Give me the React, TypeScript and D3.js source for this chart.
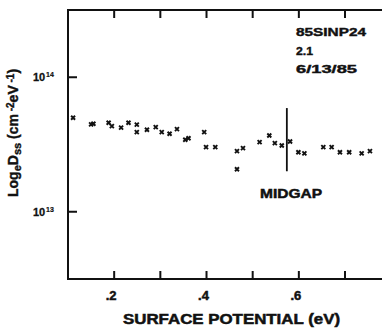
import React from "react";
import * as d3 from "d3";

// Surface potential (eV) vs interface state density Dss (cm^-2 eV^-1)
const potentials = [
  0.111, 0.150, 0.155, 0.188, 0.195, 0.215, 0.231, 0.249, 0.249, 0.271,
  0.290, 0.303, 0.320, 0.336, 0.354, 0.361, 0.395, 0.399, 0.419, 0.466,
  0.479, 0.466, 0.515, 0.536, 0.548, 0.563, 0.581, 0.599, 0.612, 0.653,
  0.671, 0.689, 0.709, 0.736, 0.754,
];
const densities = [
  5.0e13, 4.46e13, 4.51e13, 4.59e13, 4.33e13, 4.22e13, 4.59e13, 4.44e13, 3.91e13, 4.07e13,
  4.26e13, 3.91e13, 3.80e13, 4.11e13, 3.43e13, 3.52e13, 3.91e13, 3.02e13, 3.02e13, 2.82e13,
  2.97e13, 2.07e13, 3.29e13, 3.69e13, 3.24e13, 3.11e13, 3.33e13, 2.77e13, 2.72e13, 3.02e13,
  3.02e13, 2.77e13, 2.77e13, 2.72e13, 2.82e13,
];
const xTicks = [0.2, 0.3, 0.4, 0.5, 0.6, 0.7, 0.8];
const xTickLabels = [".2", ".4", ".6", ".8"];
const xLabelValues = [0.2, 0.4, 0.6, 0.8];
const yTicks = [1e13, 1e14];
const yTickExponents = ["13", "14"];
const midgap = 0.574;
const midgapRange = [2.0e13, 5.9e13];
const sampleInfo = ["85SINP24", "2.1", "6/13/85"];
const sampleInfoWidths = [70, 17, 61];

const W = 382;
const H = 330;
const left = 68;
const top = 10;
const bottom = 279;

export default function App() {
  const x = d3.scaleLinear().domain([0.1, 0.85]).range([left, left + 0.75 * 461.7]);
  const y = d3.scaleLog().domain([Math.pow(10, 12.5), Math.pow(10, 14.5)]).range([bottom, top]);
  const font = "'Liberation Sans', Arial, sans-serif";
  const ink = "#111";
  const right = x.range()[1];
  // heavy lettering
  const heavy = { fill: ink, stroke: ink, strokeWidth: 0.5 };

  return (
    <svg
      width={W}
      height={H}
      style={{ position: "absolute", left: 0, top: 0, background: "#fff" }}
      fontFamily={font}
      fontWeight="bold"
    >
      {/* frame */}
      <path
        d={`M${right},${top}H${left}V${bottom}H${right}`}
        fill="none"
        stroke={ink}
        strokeWidth={2}
      />
      {/* x ticks, top and bottom */}
      {xTicks.map((t) => (
        <g key={t}>
          <line x1={x(t)} x2={x(t)} y1={bottom} y2={bottom - 8} stroke={ink} strokeWidth={2} />
          <line x1={x(t)} x2={x(t)} y1={top} y2={top + 8} stroke={ink} strokeWidth={2} />
        </g>
      ))}
      {xLabelValues.map((v, i) => (
        <text key={v} x={x(v) - 3} y={300} textAnchor="middle" fontSize={13} {...heavy}>
          {xTickLabels[i]}
        </text>
      ))}
      {/* y ticks */}
      {yTicks.map((t, i) => (
        <g key={t}>
          <line x1={left} x2={left + 9} y1={y(t)} y2={y(t)} stroke={ink} strokeWidth={2} />
          <text x={33} y={y(t) + 4} fontSize={11} {...heavy} strokeWidth={0.3}>
            10
          </text>
          <text x={46} y={y(t)} fontSize={7} {...heavy} strokeWidth={0.2}>
            {yTickExponents[i]}
          </text>
        </g>
      ))}
      {/* data */}
      {potentials.map((p, i) => {
        const cx = x(p);
        const cy = y(densities[i]);
        return (
          <path
            key={i}
            d={`M${cx - 2},${cy - 2}L${cx + 2},${cy + 2}M${cx + 2},${cy - 2}L${cx - 2},${cy + 2}`}
            stroke={ink}
            strokeWidth={1.9}
          />
        );
      })}
      {/* midgap marker */}
      <line
        x1={x(midgap)}
        x2={x(midgap)}
        y1={y(midgapRange[1])}
        y2={y(midgapRange[0])}
        stroke={ink}
        strokeWidth={1.8}
      />
      <text x={260} y={198} fontSize={13} {...heavy} textLength={62} lengthAdjust="spacingAndGlyphs">
        MIDGAP
      </text>
      {/* sample annotation */}
      {sampleInfo.map((s, i) => (
        <text
          key={s}
          x={296}
          y={36 + i * 18.5}
          fontSize={11}
          {...heavy}
          strokeWidth={0.4}
          textLength={sampleInfoWidths[i]}
          lengthAdjust="spacingAndGlyphs"
        >
          {s}
        </text>
      ))}
      {/* axis titles */}
      <text x={123} y={324} fontSize={14} {...heavy} textLength={217} lengthAdjust="spacingAndGlyphs">
        SURFACE POTENTIAL (eV)
      </text>
      <text
        transform="translate(18,197) rotate(-90)"
        fontSize={14}
        {...heavy}
        strokeWidth={0.4}
      >
        <tspan>Log</tspan>
        <tspan fontSize={11} dy={3}>e</tspan>
        <tspan dy={-3}>D</tspan>
        <tspan fontSize={11} dy={3}>ss</tspan>
        <tspan dy={-3}> (cm</tspan>
        <tspan fontSize={10} dy={-4}> -2</tspan>
        <tspan dy={4}>eV</tspan>
        <tspan fontSize={10} dy={-4}> -1</tspan>
        <tspan dy={4}>)</tspan>
      </text>
    </svg>
  );
}
